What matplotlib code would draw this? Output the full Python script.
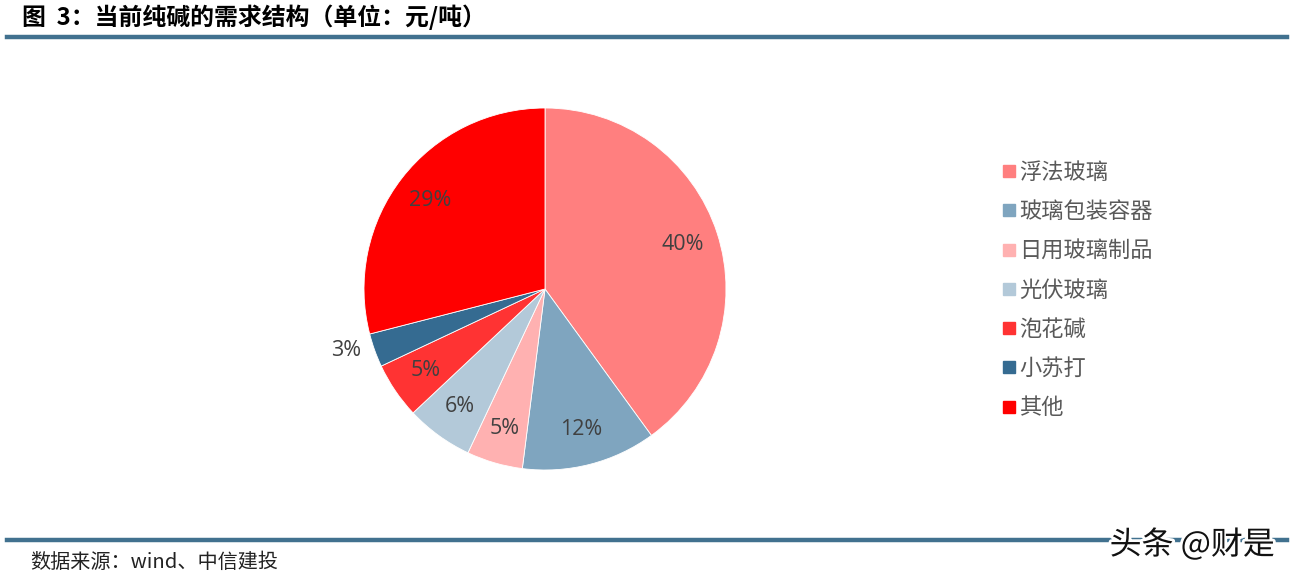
import matplotlib
matplotlib.use('Agg')
import matplotlib.pyplot as plt
import matplotlib.patheffects as pe
from matplotlib.lines import Line2D
import numpy as np

plt.rcParams['font.family'] = ['Noto Sans CJK SC', 'DejaVu Sans']

# data
labels = ['浮法玻璃', '玻璃包装容器', '日用玻璃制品', '光伏玻璃', '泡花碱', '小苏打', '其他']
shares = [40, 12, 5, 6, 5, 3, 29]
colors = ['#FF7F7F', '#7FA5BF', '#FFB1B1', '#B3C9D9', '#FF3333', '#356B91', '#FF0000']

W, H = 1293, 578
fig = plt.figure(figsize=(W / 100, H / 100), dpi=100)

# header / footer rules
line_col = '#41718F'
fig.add_artist(Line2D([7 / W, 1287 / W], [1 - 37 / H, 1 - 37 / H], color=line_col, lw=3.2))
fig.add_artist(Line2D([7 / W, 1287 / W], [1 - 540 / H, 1 - 540 / H], color=line_col, lw=3.2))

fig.text(22 / W, 1 - 17 / H, '图  3：当前纯碱的需求结构（单位：元/吨）', fontsize=17.2,
         fontweight='heavy', va='center', ha='left', color='black')
fig.text(30 / W, 1 - 562 / H, '数据来源：wind、中信建投', fontsize=14.5, style='italic',
         va='center', ha='left', color='#222222')
fig.text(1275 / W, 1 - 545 / H, '头条 @财是', fontsize=23, va='center', ha='right',
         color='#111111', path_effects=[pe.withStroke(linewidth=4, foreground='white')])

# pie
cx, cy, r = 545, 289, 181
ax = fig.add_axes([(cx - r) / W, 1 - (cy + r) / H, 2 * r / W, 2 * r / H])
wedges, texts, autotexts = ax.pie(shares, colors=colors, startangle=90, counterclock=False,
                                  autopct='%1.0f%%', pctdistance=0.8,
                                  wedgeprops=dict(linewidth=0.6, edgecolor='white'),
                                  textprops=dict(fontsize=15.5, color='#404040',
                                                 family=['Open Sans', 'DejaVu Sans']))
ax.set_xlim(-1, 1)
ax.set_ylim(-1, 1)
ax.set_aspect('auto')
ax.axis('off')

# small slice label sits outside
acc = 0
for i, s in enumerate(shares):
    mid = 90 - (acc + s / 2) * 3.6
    acc += s
    if s == 3:
        d = 1.15
        mid -= 2.5
        autotexts[i].set_position((d * np.cos(np.radians(mid)), d * np.sin(np.radians(mid))))

# legend
handles = [Line2D([], [], marker='s', linestyle='none', markersize=8, color=c) for c in colors]
fig.legend(handles, labels, loc='upper left', bbox_to_anchor=(980 / W, 1 - 141 / H),
           frameon=False, fontsize=16, labelspacing=0.73, handletextpad=0.05,
           handlelength=0.8, labelcolor='#595959')

fig.savefig('out.png', dpi=100)
